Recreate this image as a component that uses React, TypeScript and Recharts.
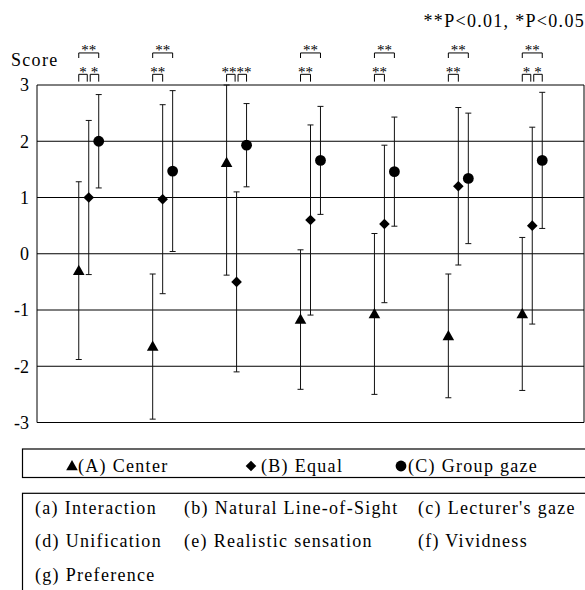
import React from 'react';
import {
  ComposedChart,
  Scatter,
  ErrorBar,
  XAxis,
  YAxis,
  CartesianGrid,
  ReferenceLine,
  ReferenceDot,
} from 'recharts';

const categories = ['(a)', '(b)', '(c)', '(d)', '(e)', '(f)', '(g)'];
const categoryNames = [
  'Interaction',
  'Natural Line-of-Sight',
  "Lecturer's gaze",
  'Unification',
  'Realistic sensation',
  'Vividness',
  'Preference',
];

// means and standard deviations
const centerMean = [-0.3, -1.65, 1.62, -1.17, -1.07, -1.46, -1.07];
const centerSd = [1.58, 1.29, 2.0, 1.24, 1.43, 1.1, 1.36];
const equalMean = [1.0, 0.97, -0.5, 0.6, 0.53, 1.2, 0.5];
const equalSd = [1.37, 1.68, 1.6, 1.69, 1.4, 1.4, 1.75];
const gazeMean = [2.0, 1.47, 1.93, 1.66, 1.46, 1.34, 1.66];
const gazeSd = [0.83, 1.43, 0.74, 0.96, 0.97, 1.16, 1.21];

const yTicks = [-3, -2, -1, 0, 1, 2, 3];
const yMax = 3;

// significance brackets: [category index, from series, to series, row (0 low, 1 high), mark]
const sigPairs: [number, number, number, number, string][] = [
  [0, 0, 1, 0, '*'], [0, 1, 2, 0, '*'], [0, 0, 2, 1, '**'],
  [1, 0, 1, 0, '**'], [1, 0, 2, 1, '**'],
  [2, 0, 1, 0, '**'], [2, 1, 2, 0, '**'],
  [3, 0, 1, 0, '**'], [3, 0, 2, 1, '**'],
  [4, 0, 1, 0, '**'], [4, 0, 2, 1, '**'],
  [5, 0, 1, 0, '**'], [5, 0, 2, 1, '**'],
  [6, 0, 1, 0, '*'], [6, 1, 2, 0, '*'], [6, 0, 2, 1, '**'],
];

const FONT = 'Liberation Serif';
const INK = '#000';
const offsets = [-0.135, 0, 0.135];

const Triangle = (p: any) => (
  <path d={`M${p.cx},${p.cy - 6} L${p.cx + 5.8},${p.cy + 4.3} L${p.cx - 5.8},${p.cy + 4.3} Z`} fill={INK} />
);
const Diamond = (p: any) => (
  <path d={`M${p.cx},${p.cy - 5.3} L${p.cx + 5.3},${p.cy} L${p.cx},${p.cy + 5.3} L${p.cx - 5.3},${p.cy} Z`} fill={INK} />
);
const Dot = (p: any) => <circle cx={p.cx} cy={p.cy} r={5.4} fill={INK} />;

const series = [
  { name: '(A) Center', mean: centerMean, sd: centerSd, shape: Triangle },
  { name: '(B) Equal', mean: equalMean, sd: equalSd, shape: Diamond },
  { name: '(C) Group gaze', mean: gazeMean, sd: gazeSd, shape: Dot },
];

// bars that run past the top of the scale are cut at it, as in the figure
const seriesData = series.map((s, k) =>
  categories.map((c, i) => ({
    x: i + offsets[k],
    y: s.mean[i],
    err: [s.sd[i], Math.min(s.sd[i], yMax - s.mean[i])],
    cat: c,
  }))
);

const CategoryTick = (p: any) => (
  <text x={p.x} y={p.y - 17} textAnchor="middle" style={{ fontFamily: FONT, fontSize: 18, fill: INK, letterSpacing: 1.2 }}>
    {categories[p.payload.value]}
  </text>
);

const rowTop = [3.19, 3.57];
const rowLeg = [3.06, 3.48];
const rowText = [3.15, 3.53];

function brackets() {
  const out: React.ReactNode[] = [];
  sigPairs.forEach(([cat, from, to, row, mark], idx) => {
    const hasBC = sigPairs.some((q) => q[0] === cat && q[1] === 1 && q[2] === 2 && q[3] === 0);
    const split = row === 0 && hasBC;
    let x1 = cat + offsets[from];
    let x2 = cat + offsets[to];
    if (split) {
      if (from === 1) x1 += 0.02;
      if (to === 1) x2 -= 0.02;
    }
    // two "**" side by side: butt them against each other over the middle marker
    let tx = (x1 + x2) / 2;
    let anchor: 'middle' | 'start' | 'end' = 'middle';
    if (split && mark.length > 1) {
      tx = cat;
      anchor = to === 1 ? 'end' : 'start';
    }
    const props = { stroke: INK, strokeWidth: 1, ifOverflow: 'visible' as const };
    out.push(
      <ReferenceLine key={`t${idx}`} segment={[{ x: x1, y: rowTop[row] }, { x: x2, y: rowTop[row] }]} {...props} />,
      <ReferenceLine key={`l${idx}`} segment={[{ x: x1, y: rowTop[row] }, { x: x1, y: rowLeg[row] }]} {...props} />,
      <ReferenceLine key={`r${idx}`} segment={[{ x: x2, y: rowTop[row] }, { x: x2, y: rowLeg[row] }]} {...props} />,
      <ReferenceDot
        key={`m${idx}`}
        x={tx}
        y={rowText[row]}
        ifOverflow="visible"
        shape={(d: any) => (
          <text x={d.cx} y={d.cy} textAnchor={anchor} style={{ fontFamily: FONT, fontSize: 15, fill: INK }}>
            {mark}
          </text>
        )}
      />
    );
  });
  return out;
}

const textStyle = { fontFamily: FONT, fontSize: 18, fill: INK, letterSpacing: 1.3 } as const;
const legendShapes = [Triangle, Diamond, Dot];
const legendMarkX = [72, 251, 401];
const legendTextX = [78, 261, 408];
const nameColX = [35, 184, 418];
const nameRowY = [513.5, 547, 580.5];

export default function App() {
  return (
    <div style={{ position: 'absolute', left: 0, top: 0, width: 585, height: 590, background: '#fff', fontFamily: FONT }}>
      <ComposedChart width={585} height={440} margin={{ top: 85, right: 1, bottom: 17.5, left: 0 }}>
        <CartesianGrid horizontal vertical={false} stroke={INK} strokeWidth={1} />
        <XAxis
          type="number"
          dataKey="x"
          domain={[-0.7, 6.7]}
          ticks={[0, 1, 2, 3, 4, 5, 6]}
          interval={0}
          height={0}
          axisLine={false}
          tickLine={false}
          tick={<CategoryTick />}
        />
        <YAxis
          type="number"
          dataKey="y"
          domain={[-3, yMax]}
          ticks={yTicks}
          allowDataOverflow
          width={37}
          axisLine={{ stroke: INK }}
          tickLine={false}
          tick={{ fontFamily: FONT, fontSize: 18, fill: INK }}
        />
        <ReferenceLine x={6.7} stroke={INK} ifOverflow="visible" />
        {series.map((s, k) => (
          <Scatter key={s.name} name={s.name} data={seriesData[k]} shape={s.shape} isAnimationActive={false}>
            <ErrorBar dataKey="err" direction="y" width={3} stroke="#111" strokeWidth={1} />
          </Scatter>
        ))}
        {brackets()}
      </ComposedChart>
      <svg width={585} height={590} style={{ position: 'absolute', left: 0, top: 0, pointerEvents: 'none' }}>
        <text x={11} y={66} style={textStyle}>Score</text>
        <text x={585} y={27.3} textAnchor="end" style={textStyle}>**P&lt;0.01, *P&lt;0.05</text>
        <rect x={22.5} y={449} width={600} height={28.5} fill="none" stroke={INK} strokeWidth={1.2} />
        {series.map((s, k) => {
          const Shape = legendShapes[k];
          return (
            <g key={s.name}>
              <Shape cx={legendMarkX[k]} cy={466} />
              <text x={legendTextX[k]} y={472} style={textStyle}>{s.name}</text>
            </g>
          );
        })}
        <rect x={22.5} y={493.3} width={600} height={200} fill="none" stroke={INK} strokeWidth={1.2} />
        {categories.map((c, i) => (
          <text key={c} x={nameColX[i % 3]} y={nameRowY[Math.floor(i / 3)]} style={textStyle}>
            {`${c} ${categoryNames[i]}`}
          </text>
        ))}
      </svg>
    </div>
  );
}
